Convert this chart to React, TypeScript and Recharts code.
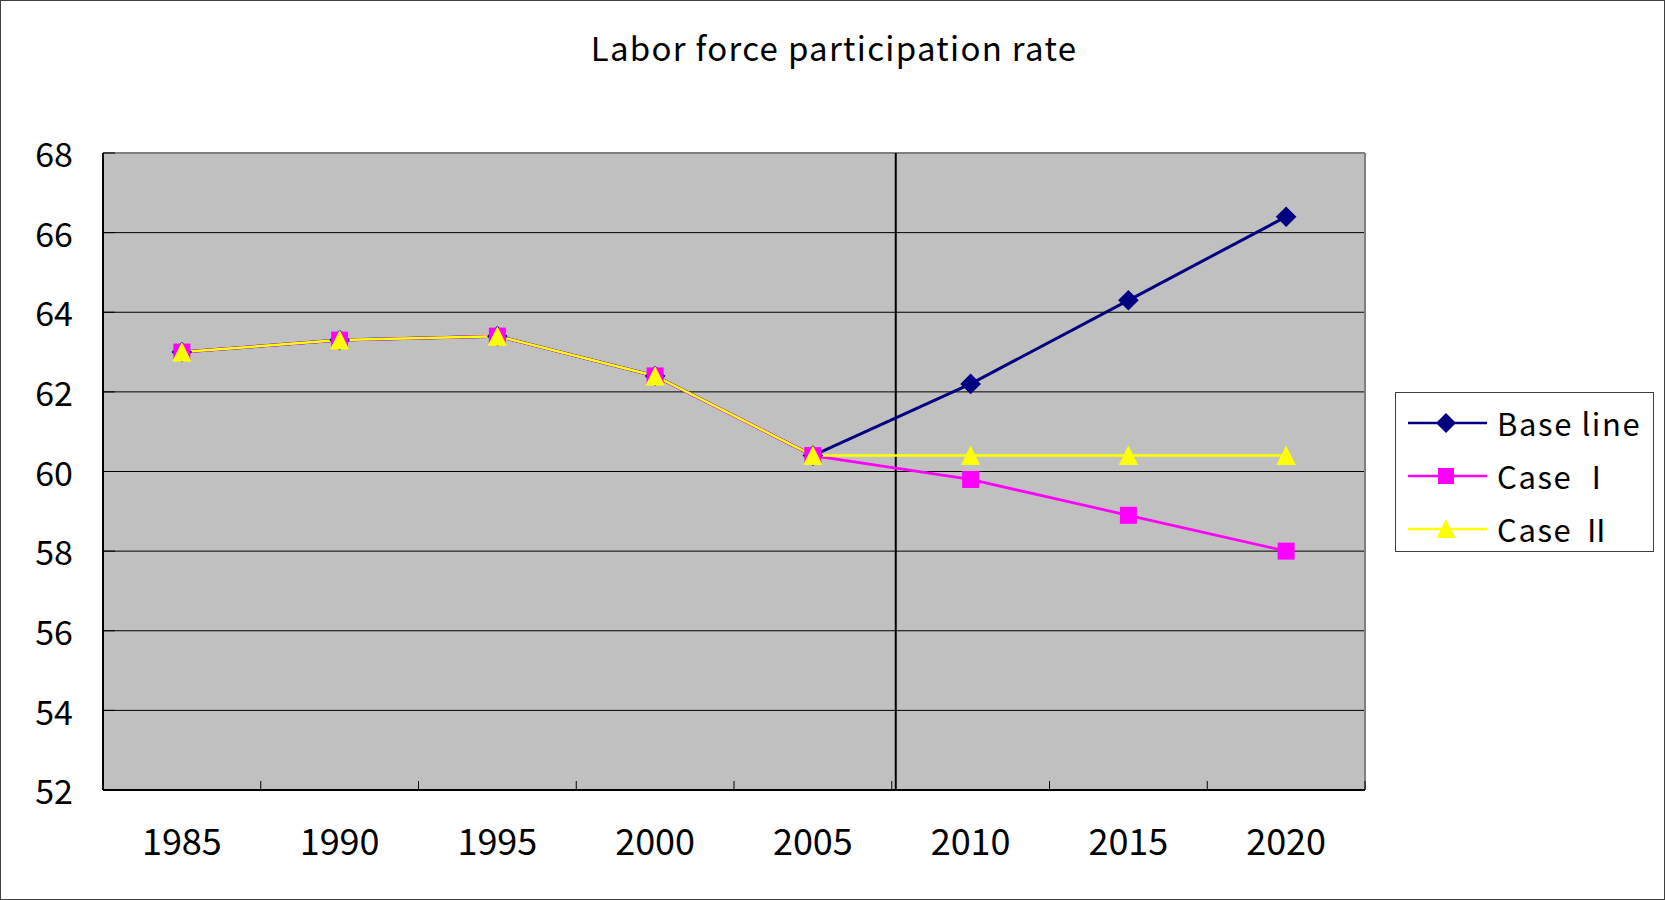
import { ComposedChart, Line, XAxis, YAxis, CartesianGrid, ReferenceLine } from "recharts";

const years = ["1985", "1990", "1995", "2000", "2005", "2010", "2015", "2020"];
const baseLine = [63.0, 63.3, 63.4, 62.4, 60.4, 62.2, 64.3, 66.4];
const caseOne = [63.0, 63.3, 63.4, 62.4, 60.4, 59.8, 58.9, 58.0];
const caseTwo = [63.0, 63.3, 63.4, 62.4, 60.4, 60.4, 60.4, 60.4];
const yTicks = [52, 54, 56, 58, 60, 62, 64, 66, 68];
const seriesNames = ["Base line", "Case Ⅰ", "Case Ⅱ"];

const W = 1665;
const H = 900;
const LEFT = 103;
const RIGHT = 300;
const TOP = 153;
const BOTTOM = 110;
const BAND = (W - LEFT - RIGHT) / years.length;
const FONT = '"Noto Sans CJK JP", "Noto Sans", sans-serif';

const NAVY = "#000080";
const MAGENTA = "#FF00FF";
const YELLOW = "#FFFF00";

const data = years.map((year, i) => ({
  year,
  base: baseLine[i],
  c1: caseOne[i],
  c2: caseTwo[i],
}));

// eslint-disable-next-line @typescript-eslint/no-explicit-any
function Diamond({ cx, cy, index }: any) {
  if (cx == null || cy == null) return null;
  const r = 10.3;
  return <path key={`d${index}`} d={`M${cx},${cy - r}L${cx + r},${cy}L${cx},${cy + r}L${cx - r},${cy}Z`} fill={NAVY} />;
}

// eslint-disable-next-line @typescript-eslint/no-explicit-any
function Square({ cx, cy, index }: any) {
  if (cx == null || cy == null) return null;
  return <rect key={`s${index}`} x={cx - 8.5} y={cy - 8.5} width={17} height={17} fill={MAGENTA} />;
}

// eslint-disable-next-line @typescript-eslint/no-explicit-any
function Triangle({ cx, cy, index }: any) {
  if (cx == null || cy == null) return null;
  return <path key={`t${index}`} d={`M${cx},${cy - 10}L${cx + 9.7},${cy + 9.5}L${cx - 9.7},${cy + 9.5}Z`} fill={YELLOW} />;
}

// eslint-disable-next-line @typescript-eslint/no-explicit-any
function XTick({ x, y, payload }: any) {
  const edge = x + BAND / 2;
  return (
    <g>
      <line x1={edge} x2={edge} y1={y} y2={y - 9} stroke="#000" strokeWidth={1} />
      <text x={x} y={y + 55} textAnchor="middle" dominantBaseline="middle" fontSize={36} fontFamily={FONT} fill="#000">
        {payload.value}
      </text>
    </g>
  );
}

// eslint-disable-next-line @typescript-eslint/no-explicit-any
function YTick({ x, y, payload }: any) {
  return (
    <g>
      <line x1={x} x2={x + 12} y1={y} y2={y} stroke="#000" strokeWidth={1} />
      <text x={x - 30} y={y + 5} textAnchor="end" dominantBaseline="middle" fontSize={34} fontFamily={FONT} fill="#000">
        {payload.value}
      </text>
    </g>
  );
}

// divider sits a few px right of the 2005|2010 boundary in the original
// eslint-disable-next-line @typescript-eslint/no-explicit-any
function Divider({ x1, y1, x2, y2 }: any) {
  return <line x1={x1 + 4} x2={x2 + 4} y1={y1} y2={y2} stroke="#000" strokeWidth={2} />;
}

const legendItems = [
  { name: seriesNames[0], color: NAVY, shape: "diamond" },
  { name: seriesNames[1], color: MAGENTA, shape: "square" },
  { name: seriesNames[2], color: YELLOW, shape: "triangle" },
];

function LegendBox() {
  return (
    <div
      style={{
        position: "absolute",
        left: 1395,
        top: 392,
        width: 259,
        height: 160,
        boxSizing: "border-box",
        border: "1px solid #404040",
        background: "#fff",
        paddingTop: 3,
      }}
    >
      {legendItems.map((it) => (
        <div key={it.name} style={{ display: "flex", alignItems: "center", height: 53 }}>
          <svg width={100} height={30} style={{ marginLeft: 12, flex: "none" }}>
            <line x1={0} x2={79} y1={15} y2={15} stroke={it.color} strokeWidth={2.5} />
            {it.shape === "diamond" && <path d="M38,5L48,15L38,25L28,15Z" fill={it.color} />}
            {it.shape === "square" && <rect x={30} y={7} width={16} height={16} fill={it.color} />}
            {it.shape === "triangle" && <path d="M38,5L47.5,24L28.5,24Z" fill={it.color} />}
          </svg>
          <span style={{ fontFamily: FONT, fontSize: 31, letterSpacing: 1.6, color: "#000", marginLeft: -11, lineHeight: 1 }}>
            {it.name}
          </span>
        </div>
      ))}
    </div>
  );
}

export default function App() {
  return (
    <div style={{ position: "relative", width: W, height: H, background: "#fff", fontFamily: FONT }}>
      <style>{"body{margin:0}"}</style>
      <div
        style={{
          position: "absolute",
          left: 0,
          top: 23,
          width: 1668,
          textAlign: "center",
          fontSize: 33,
          letterSpacing: 1.3,
          color: "#000",
        }}
      >
        Labor force participation rate
      </div>
      <ComposedChart width={W} height={H} data={data} margin={{ top: TOP, right: RIGHT, bottom: 0, left: 0 }}>
        <CartesianGrid vertical={false} stroke="#000" strokeWidth={1} fill="#C0C0C0" fillOpacity={1} />
        <XAxis
          dataKey="year"
          scale="band"
          height={BOTTOM}
          axisLine={{ stroke: "#000", strokeWidth: 2 }}
          tickLine={false}
          tickSize={0}
          tickMargin={0}
          interval={0}
          tick={<XTick />}
        />
        <YAxis
          width={LEFT}
          domain={[52, 68]}
          ticks={yTicks}
          interval={0}
          axisLine={{ stroke: "#000", strokeWidth: 2 }}
          tickLine={false}
          tickSize={0}
          tickMargin={0}
          tick={<YTick />}
        />
        <ReferenceLine y={68} stroke="#808080" strokeWidth={2} />
        <ReferenceLine x="2020" position="end" stroke="#808080" strokeWidth={2} />
        <ReferenceLine x="2005" position="end" shape={<Divider />} />
        <Line dataKey="base" name={seriesNames[0]} stroke={NAVY} strokeWidth={3} dot={Diamond} activeDot={false} isAnimationActive={false} />
        <Line dataKey="c1" name={seriesNames[1]} stroke={MAGENTA} strokeWidth={2.75} dot={Square} activeDot={false} isAnimationActive={false} />
        <Line dataKey="c2" name={seriesNames[2]} stroke={YELLOW} strokeWidth={2.5} dot={Triangle} activeDot={false} isAnimationActive={false} />
      </ComposedChart>
      <LegendBox />
      <div
        style={{
          position: "absolute",
          inset: 0,
          border: "1px solid #404040",
          pointerEvents: "none",
        }}
      />
    </div>
  );
}
